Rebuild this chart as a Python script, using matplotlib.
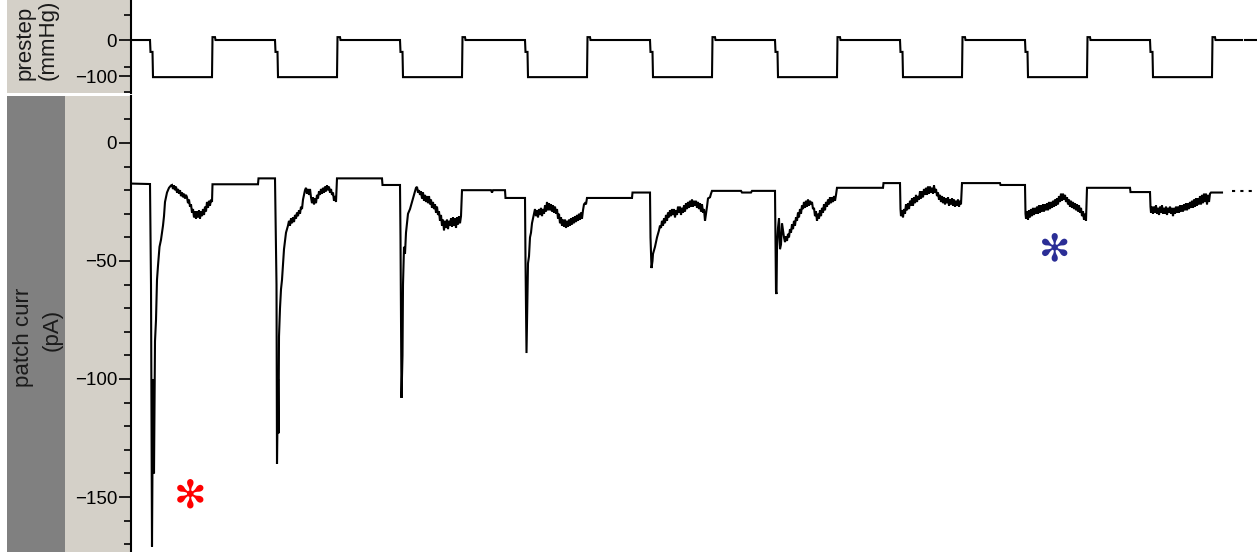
import matplotlib
matplotlib.use("Agg")
import matplotlib.pyplot as plt
from matplotlib.patches import Rectangle
from matplotlib.ticker import MultipleLocator, FixedLocator

plt.rcParams['font.family'] = ['Liberation Sans', 'DejaVu Sans']

# ---------------- data (time in ms, one sweep cycle = 1250 ms) ----------------
press_down_t = [190, 1440, 2690, 3940, 5190, 6440, 7690, 8940, 10190]
press_up_t = [810, 2060, 3310, 4560, 5810, 7060, 8310, 9560, 10810]
press_rest = 0
press_step = -103
press_mid = -33
press_over = 8
press_end_t = 11110
press_tail_t = [11140, 11260]

# patch current, (time ms, pA), one list per pressure cycle
cur_c1 = [(0, -17.2), (190, -17.4), (200, -60), (210, -171), (220, -100), (230, -140), (240, -84),
          (250, -75), (260, -58), (270, -52), (285, -44), (300, -41), (310, -38), (320, -35),
          (330, -31), (340, -25), (350, -23), (360, -21), (380, -19), (400, -18), (410, -17.8),
          (420, -19.5), (430, -18), (440, -20), (450, -18.5), (460, -21), (470, -19.5), (480, -21.5),
          (490, -20), (500, -22.5), (510, -21), (520, -23), (530, -21.5), (540, -23.5), (550, -22),
          (560, -23), (570, -25.5), (580, -24), (590, -27), (600, -26), (610, -29.5), (620, -28),
          (630, -31.5), (640, -29), (650, -32), (660, -29), (670, -31.5), (680, -28.5), (690, -32),
          (700, -29), (710, -31), (720, -28), (730, -30.5), (740, -27), (750, -29), (760, -25),
          (770, -27.5), (780, -24.5), (790, -26.5), (800, -24), (810, -25), (815, -17.5),
          (1270, -17.5), (1275, -15), (1440, -15)]
cur_c2 = [(1445, -31), (1455, -60), (1460, -136), (1470, -100), (1475, -123), (1480, -82),
          (1490, -70), (1500, -62), (1510, -58), (1530, -45), (1550, -38), (1570, -35), (1580, -33),
          (1590, -35), (1600, -32), (1610, -34), (1620, -31.5), (1630, -33.5), (1640, -30.5),
          (1650, -32), (1660, -29.5), (1670, -31), (1680, -28.5), (1690, -30), (1700, -27),
          (1710, -28), (1720, -24), (1730, -22), (1740, -20), (1750, -19), (1760, -21.5),
          (1770, -19.5), (1780, -22), (1790, -19.5), (1800, -23), (1810, -25.5), (1820, -23),
          (1830, -26), (1840, -23.5), (1850, -25.5), (1860, -22), (1870, -23.5), (1880, -20.5),
          (1890, -22), (1900, -19.5), (1910, -21.5), (1920, -19), (1930, -21), (1940, -18.5),
          (1950, -20.5), (1960, -18), (1970, -20), (1980, -18.5), (1990, -21), (2000, -19.5),
          (2010, -22), (2020, -21), (2030, -24.5), (2040, -22.5), (2050, -25), (2060, -15),
          (2510, -15), (2515, -17.8), (2690, -17.8)]
cur_c3 = [(2695, -40), (2705, -108), (2715, -90), (2720, -60), (2730, -44), (2740, -47),
          (2750, -38), (2760, -34), (2770, -30), (2790, -28), (2810, -25), (2830, -22), (2850, -19),
          (2860, -18.6), (2870, -21), (2880, -20), (2890, -22), (2900, -20.5), (2910, -23.5),
          (2920, -21), (2930, -24.5), (2940, -22), (2950, -25), (2960, -22.5), (2970, -25.5),
          (2980, -22.5), (2990, -26), (3000, -24), (3010, -27.5), (3020, -25), (3030, -28),
          (3040, -26), (3050, -29.5), (3060, -27), (3070, -30.5), (3080, -29), (3090, -33),
          (3100, -30.5), (3110, -35), (3120, -32.5), (3130, -37), (3140, -33), (3150, -36),
          (3160, -32.5), (3170, -36.5), (3180, -33), (3190, -35), (3200, -32), (3210, -35.5),
          (3220, -31.5), (3230, -35), (3240, -32), (3250, -36), (3260, -31.5), (3270, -34.5),
          (3280, -31), (3290, -34), (3300, -31), (3310, -20), (3600, -20), (3610, -21),
          (3620, -20), (3740, -20), (3745, -23.3), (3940, -23.3)]
cur_c4 = [(3945, -50), (3955, -89), (3965, -65), (3970, -51), (3980, -48), (3990, -40),
          (4000, -38), (4010, -34), (4020, -32), (4030, -30), (4040, -28), (4050, -31),
          (4060, -28.5), (4070, -31.5), (4080, -28), (4090, -30.5), (4100, -27.5), (4110, -31),
          (4120, -28), (4130, -30), (4140, -26.5), (4150, -29), (4160, -25), (4170, -28.5),
          (4180, -25.5), (4190, -28.5), (4200, -26), (4210, -29), (4220, -26.5), (4230, -29.5),
          (4240, -27), (4250, -30), (4260, -28), (4270, -32), (4280, -30), (4290, -34),
          (4300, -31.5), (4310, -35), (4320, -32.5), (4330, -35.5), (4340, -32.5), (4350, -36),
          (4360, -33), (4370, -35.5), (4380, -32.5), (4390, -35), (4400, -32), (4410, -34.5),
          (4420, -31.5), (4430, -34), (4440, -31), (4450, -33.5), (4460, -30.5), (4470, -33),
          (4480, -30), (4490, -32.5), (4500, -29.5), (4510, -32), (4520, -28.5), (4530, -26),
          (4540, -25.5), (4550, -26), (4560, -23.3), (5010, -23.3), (5015, -21), (5190, -21)]
cur_c5 = [(5195, -40), (5205, -53), (5215, -50), (5220, -47), (5240, -44), (5260, -40),
          (5280, -37), (5290, -35), (5300, -36), (5310, -33), (5320, -35), (5330, -32), (5340, -34),
          (5350, -30.5), (5360, -33), (5370, -29.5), (5380, -31.5), (5390, -28.5), (5400, -31),
          (5410, -28), (5420, -30.5), (5430, -28), (5440, -31.5), (5450, -28.5), (5460, -30.5),
          (5470, -27), (5480, -29.5), (5490, -27), (5500, -30.5), (5510, -27.5), (5520, -29.5),
          (5530, -26.5), (5540, -29), (5550, -25.5), (5560, -28), (5570, -25), (5580, -27.5),
          (5590, -24.5), (5600, -27), (5610, -24), (5620, -27), (5630, -24.5), (5640, -26.5),
          (5650, -24.5), (5660, -27.5), (5670, -25), (5680, -28), (5690, -25.5), (5700, -29),
          (5710, -26), (5720, -29.5), (5730, -28), (5740, -33), (5750, -30), (5760, -27),
          (5770, -23.5), (5790, -23), (5800, -21.5), (5810, -20.3), (6100, -20.3), (6110, -21),
          (6200, -21), (6210, -20.3), (6440, -20.3)]
cur_c6 = [(6445, -40), (6450, -63), (6455, -64), (6460, -44), (6470, -36), (6480, -32),
          (6490, -45), (6500, -43), (6510, -34), (6520, -37), (6530, -40), (6540, -42),
          (6550, -39.5), (6560, -41.5), (6570, -38.5), (6580, -40), (6590, -36.5), (6600, -38),
          (6610, -34.5), (6620, -36.5), (6630, -33), (6640, -35), (6650, -31.5), (6660, -33),
          (6670, -29.5), (6680, -31.5), (6690, -28), (6700, -30), (6710, -26.5), (6720, -28),
          (6730, -25), (6740, -27.5), (6750, -24.5), (6760, -27), (6770, -24), (6780, -26.5),
          (6790, -24.5), (6800, -26), (6810, -25), (6820, -28), (6830, -27.5), (6840, -31),
          (6850, -29), (6860, -33), (6870, -30), (6880, -32), (6890, -28.5), (6900, -31),
          (6910, -27.5), (6920, -29.5), (6930, -26), (6940, -28.5), (6950, -25), (6960, -27),
          (6970, -24), (6980, -26), (6990, -23), (7000, -25.5), (7010, -23), (7020, -25),
          (7030, -22.5), (7040, -24.5), (7050, -22), (7060, -19), (7520, -19), (7525, -17),
          (7690, -17)]
cur_c7 = [(7695, -28), (7700, -31), (7710, -28.5), (7720, -31.5), (7730, -28), (7740, -30),
          (7750, -26), (7760, -28.5), (7770, -25.5), (7780, -28), (7790, -24.5), (7800, -26.5),
          (7810, -23.5), (7820, -26.5), (7830, -23), (7840, -25.5), (7850, -22), (7860, -25),
          (7870, -22.5), (7880, -24), (7890, -20.5), (7900, -23.5), (7910, -20.5), (7920, -23),
          (7930, -19.5), (7940, -22), (7950, -19), (7960, -22), (7970, -18.5), (7980, -21.5),
          (7990, -18.5), (8000, -21), (8010, -19), (8020, -21.5), (8030, -18), (8040, -21),
          (8050, -19.5), (8060, -22.5), (8070, -21), (8080, -24), (8090, -22), (8100, -25),
          (8110, -22.5), (8120, -25.5), (8130, -23), (8140, -26), (8150, -23.5), (8160, -25.5),
          (8170, -23), (8180, -26.5), (8190, -24), (8200, -26), (8210, -23.5), (8220, -26.5),
          (8230, -24), (8240, -27), (8250, -24.5), (8260, -26.5), (8270, -24), (8280, -27),
          (8290, -24.5), (8300, -26), (8310, -17), (8690, -17), (8695, -17.8), (8940, -17.8)]
cur_c8 = [(8945, -30), (8950, -32), (8960, -29), (8970, -32.5), (8980, -28.5), (8990, -31.5),
          (9000, -28), (9010, -31), (9020, -27.5), (9030, -30.5), (9040, -27.5), (9050, -30),
          (9060, -27), (9070, -30), (9080, -26.5), (9090, -29.5), (9100, -26.5), (9110, -29),
          (9120, -26), (9130, -29), (9140, -26), (9150, -28.5), (9160, -25.5), (9170, -28.5),
          (9180, -25), (9190, -28), (9200, -25), (9210, -27.5), (9220, -24.5), (9230, -27),
          (9240, -24), (9250, -26.5), (9260, -23.5), (9270, -26), (9280, -22.5), (9290, -25),
          (9300, -21.5), (9310, -24.5), (9320, -21.5), (9330, -24), (9340, -22), (9350, -25),
          (9360, -23), (9370, -26), (9380, -24), (9390, -27), (9400, -24.5), (9410, -27.5),
          (9420, -25), (9430, -28), (9440, -25.5), (9450, -28.5), (9460, -26), (9470, -29),
          (9480, -26.5), (9490, -29.5), (9500, -27.5), (9510, -31), (9520, -29), (9530, -32.5),
          (9540, -30), (9550, -33), (9560, -19), (9990, -19), (9995, -20.8), (10190, -20.8)]
cur_c9 = [(10195, -27), (10200, -29.5), (10210, -27), (10220, -30), (10230, -27), (10240, -29.5),
          (10250, -26.5), (10260, -30), (10270, -27.5), (10280, -30.5), (10290, -27),
          (10300, -29.5), (10310, -26.5), (10320, -30), (10330, -27.5), (10340, -30),
          (10350, -27), (10360, -30.5), (10370, -27.5), (10380, -29.5), (10390, -27),
          (10400, -30), (10410, -27.5), (10420, -31), (10430, -27.5), (10440, -30), (10450, -27),
          (10460, -29.5), (10470, -27), (10480, -29.5), (10490, -26.5), (10500, -29),
          (10510, -26.5), (10520, -29), (10530, -26), (10540, -28.5), (10550, -25.5),
          (10560, -28.5), (10570, -25.5), (10580, -28), (10590, -25), (10600, -27.5),
          (10610, -24.5), (10620, -27.5), (10630, -24), (10640, -27), (10650, -23.5),
          (10660, -26.5), (10670, -23.5), (10680, -26), (10690, -22.5), (10700, -26), (10710, -22),
          (10720, -25.5), (10730, -21.5), (10740, -25), (10750, -21.5), (10760, -26), (10770, -22),
          (10780, -25), (10790, -21.5), (10800, -21), (10910, -21)]
cur_tail_t = [11010, 11210]
cur_tail_v = [-20.5, -20.5]

marker_red = (590, -149.6)
marker_blue = (9240, -45.3)

# ---------------- figure ----------------
W, H = 1257, 552
fig = plt.figure(figsize=(W / 100, H / 100), dpi=100)
fig.patch.set_facecolor('white')

def fx(px):
    return px / W

def fh(px):
    return px / H

fig.add_artist(Rectangle((fx(7), 0), fx(124), 1, transform=fig.transFigure,
                         facecolor='#d4d0c8', edgecolor='none', zorder=-2))
fig.add_artist(Rectangle((fx(7), 1 - fh(96)), fx(124), fh(3), transform=fig.transFigure,
                         facecolor='white', edgecolor='none', zorder=-1))
fig.add_artist(Rectangle((fx(7), 0), fx(58), 1 - fh(96), transform=fig.transFigure,
                         facecolor='#808080', edgecolor='none', zorder=-1))

ax_p = fig.add_axes([fx(131), 1 - fh(93), fx(W - 131), fh(93)])
ax_c = fig.add_axes([fx(131), 0, fx(W - 131), fh(H - 96)])

for ax in (ax_p, ax_c):
    ax.set_facecolor('white')
    for s in ('top', 'right', 'bottom'):
        ax.spines[s].set_visible(False)
    ax.spines['left'].set_linewidth(1.5)
    ax.spines['left'].set_color('black')
    ax.set_xticks([])
    ax.set_xlim(0, 11260)
    ax.tick_params(axis='y', which='major', length=9, width=1.2, pad=1,
                   labelsize=13.5, colors='black')
    ax.tick_params(axis='y', which='minor', length=5, width=1.2)

# pressure trace built from step onsets
pt, pv = [0], [press_rest]
for d, u in zip(press_down_t, press_up_t):
    pt += [d, d + 5, d + 25, d + 30, u, u + 5, u + 30, u + 35]
    pv += [press_rest, press_mid, press_mid, press_step, press_step, press_over, press_over, press_rest]
pt.append(press_end_t)
pv.append(press_rest)
ax_p.plot(pt, pv, color='black', lw=1.5, solid_joinstyle='miter')
ax_p.plot(press_tail_t, [press_rest, press_rest], color='black', lw=1.5)
ax_p.set_ylim(-147, 111)
ax_p.set_yticks([0, -100])
ax_p.yaxis.set_minor_locator(FixedLocator([70, -75, -145]))

cur = cur_c1 + cur_c2 + cur_c3 + cur_c4 + cur_c5 + cur_c6 + cur_c7 + cur_c8 + cur_c9
ax_c.plot([p[0] for p in cur], [p[1] for p in cur], color='black', lw=1.5,
          solid_joinstyle='miter')
ax_c.plot(cur_tail_t, cur_tail_v, color='black', lw=1.5, ls=(0, (1.5, 2.5)))
ax_c.set_ylim(-173.3, 19.9)
ax_c.set_yticks([0, -50, -100, -150])
ax_c.yaxis.set_minor_locator(MultipleLocator(10))

ax_c.text(marker_red[0], marker_red[1], '\u273b', color='#ff0000', fontsize=28,
          ha='center', va='center', family='DejaVu Sans')
ax_c.text(marker_blue[0], marker_blue[1], '\u273b', color='#2b2e96', fontsize=27,
          ha='center', va='center', family='DejaVu Sans')

# channel labels
lab_kw = dict(rotation=90, fontsize=16, color='#1a1a1a', transform=fig.transFigure)
fig.text(fx(25), 1 - fh(80), 'prestep', ha='center', va='bottom', **lab_kw)
fig.text(fx(48), 1 - fh(80), '(mmHg)', ha='center', va='bottom', **lab_kw)
fig.text(fx(24), 1 - fh(337), 'patch curr', ha='center', va='center', **lab_kw)
fig.text(fx(52), 1 - fh(330), '(pA)', ha='center', va='center', **lab_kw)

fig.savefig('out.png', dpi=100)
